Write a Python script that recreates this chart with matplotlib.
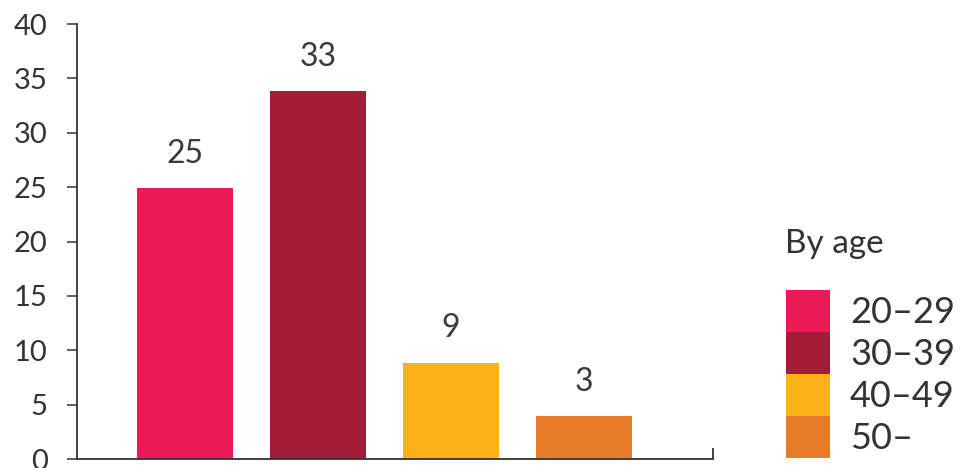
import matplotlib
matplotlib.use('Agg')
import matplotlib.pyplot as plt
from matplotlib.patches import Patch

# data
groups = ['20–29', '30–39', '40–49', '50–']
heights = [24.9, 33.8, 8.85, 3.96]
value_labels = ['25', '33', '9', '3']
colors = ['#EC1A56', '#A21C35', '#FBB117', '#E77B27']
yticks = [0, 5, 10, 15, 20, 25, 30, 35, 40]

text_color = '#333333'


def main():
    plt.rcParams['font.family'] = ['Lato', 'DejaVu Sans']

    fig = plt.figure(figsize=(9.61, 4.68), dpi=100)
    ax = fig.add_axes([0.0801, 0.0192, 0.742 - 0.0801, 0.9487 - 0.0192])

    x = list(range(len(groups)))
    bars = ax.bar(x, heights, width=0.72, color=colors)
    ax.bar_label(bars, labels=value_labels, padding=14, fontsize=23,
                 color='#3a3a3a')

    ax.set_xlim(-0.81, 3.97)
    ax.set_ylim(0, 40)
    ax.set_yticks(yticks)
    ax.set_xticks([3.97])
    ax.set_xticklabels([''])

    for side in ['top', 'right']:
        ax.spines[side].set_visible(False)
    for side in ['left', 'bottom']:
        ax.spines[side].set_color(text_color)
        ax.spines[side].set_linewidth(1.3)

    ax.tick_params(axis='y', direction='out', length=7, width=1.1,
                   color=text_color, pad=14, labelsize=21,
                   labelcolor=text_color)
    ax.tick_params(axis='x', direction='in', length=8, width=1.3,
                   color=text_color)

    # legend title as its own text, legend entries below
    fig.text(785 / 961, 1 - 253 / 468, 'By age', fontsize=24,
             color=text_color, ha='left', va='baseline')

    handles = [Patch(facecolor=c, edgecolor='none') for c in colors]
    leg = fig.legend(handles, groups, loc='upper left',
                     bbox_to_anchor=(786 / 961, 1 - 290 / 468),
                     frameon=False, fontsize=26, handlelength=1.22,
                     handleheight=1.41, handletextpad=0.55,
                     labelspacing=0.0, borderpad=0, borderaxespad=0)
    for t in leg.get_texts():
        t.set_color(text_color)

    fig.savefig('out.png', dpi=100)


if __name__ == '__main__':
    main()
